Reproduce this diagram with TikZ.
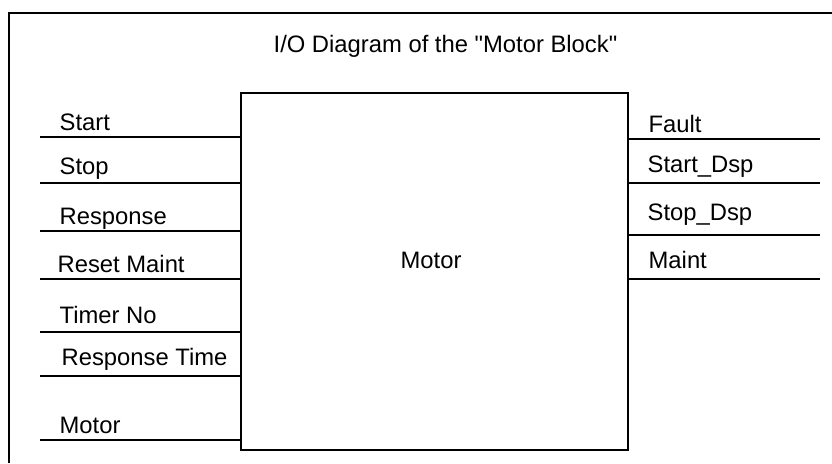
\documentclass[tikz,border=0pt]{standalone}
\usepackage{fontspec}
\setsansfont{Liberation Sans}[Ligatures=TeXOff]
\usetikzlibrary{calc}

\begin{document}
\begin{tikzpicture}[
        %Environment config
        x=1pt, y=-1pt,
        font=\sffamily\fontsize{23.8}{28}\selectfont,
        line width=1.3pt,
        %Environment styles
        BlockCfg/.style={
            draw,
            rectangle,
            minimum width=387pt,
            minimum height=357pt,
            inner sep=0pt
        },
        PinLabel/.style={anchor=base west, inner sep=0pt}
    ]
    \useasboundingbox (0,0) rectangle (832,463);

    %outer frame
    \draw (9,463) -- (9,13) -- (832,13);

    \path
        (434.5,271.5) node[BlockCfg](MOT){}
        (400,268) node[PinLabel](MOTNAME){Motor}
        (273,52) node[PinLabel](TITLE){I/O Diagram of the "Motor Block"};

    %inputs
    \foreach \y/\by/\lx/\txt [count=\i] in {
        137/130/59/Start,
        183/174/59/Stop,
        231/224/59/Response,
        279/272/57/Reset Maint,
        332/323/59/Timer No,
        376/365/61/Response Time,
        440/433/59/Motor}
    {
        \coordinate (IN\i) at (40,\y);
        \draw (IN\i) -- (IN\i -| MOT.west);
        \node[PinLabel] (INL\i) at (\lx,\by) {\txt};
    }

    %outputs
    \foreach \y/\by/\lx/\txt [count=\i] in {
        139/132/648/Fault,
        183/172/647/Start\_Dsp,
        235/220/647/Stop\_Dsp,
        279/268/648/Maint}
    {
        \coordinate (OUT\i) at (820,\y);
        \draw (OUT\i -| MOT.east) -- (OUT\i);
        \node[PinLabel] (OUTL\i) at (\lx,\by) {\txt};
    }
\end{tikzpicture}
\end{document}
